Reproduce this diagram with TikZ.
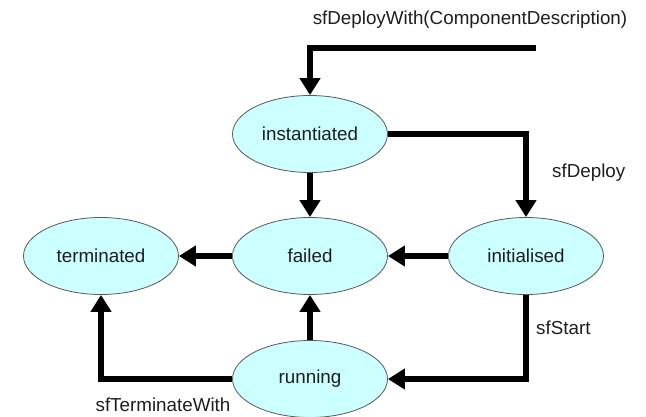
\documentclass[tikz,border=0pt]{standalone}
\usepackage{fontspec}
\setmainfont{Liberation Sans}
\usetikzlibrary{arrows.meta,shapes.geometric}
\definecolor{statefill}{RGB}{204,255,255}
\definecolor{stateline}{RGB}{90,90,90}
\definecolor{txt}{RGB}{30,30,30}
\begin{document}
\begin{tikzpicture}[x=1pt,y=-1pt,
  state/.style={ellipse,draw=stateline,line width=0.8pt,fill=statefill,
    minimum width=155pt,minimum height=77pt,inner sep=0pt,
    font=\fontsize{18.8}{22}\selectfont,text=txt},
  trans/.style={line width=6pt,line join=miter,
    -{Triangle[width=20pt,length=17pt]}},
  lbl/.style={font=\fontsize{18.8}{22}\selectfont,text=txt,inner sep=0pt}]
\useasboundingbox (0,0) rectangle (646,417);

% states
\node[state] (inst) at (310,134) {instantiated};
\node[state] (fail) at (310,256) {failed};
\node[state] (init) at (526,256) {initialised};
\node[state] (term) at (101,256) {terminated};
\node[state] (run)  at (310,379) {running};

% entry point of the deployment call
\coordinate (src) at (536,48);

% transitions
\draw[trans] (src) -| (inst.north);
\draw[trans] (inst.east) -| (init.north);
\draw[trans] (inst.south) -- (fail.north);
\draw[trans] (init.west) -- (fail.east);
\draw[trans] (fail.west) -- (term.east);
\draw[trans] (run.north) -- (fail.south);
\draw[trans] (init.south) |- (run.east);
\draw[trans] (run.west) -| (term.south);

% transition labels
\node[lbl] (ldw) at (470,20) {sfDeployWith(ComponentDescription)};
\node[lbl,anchor=west] (ld) at (552,173) {sfDeploy};
\node[lbl,anchor=west] (ls) at (536,328) {sfStart};
\node[lbl] (lt) at (163,405) {sfTerminateWith};
\end{tikzpicture}
\end{document}
